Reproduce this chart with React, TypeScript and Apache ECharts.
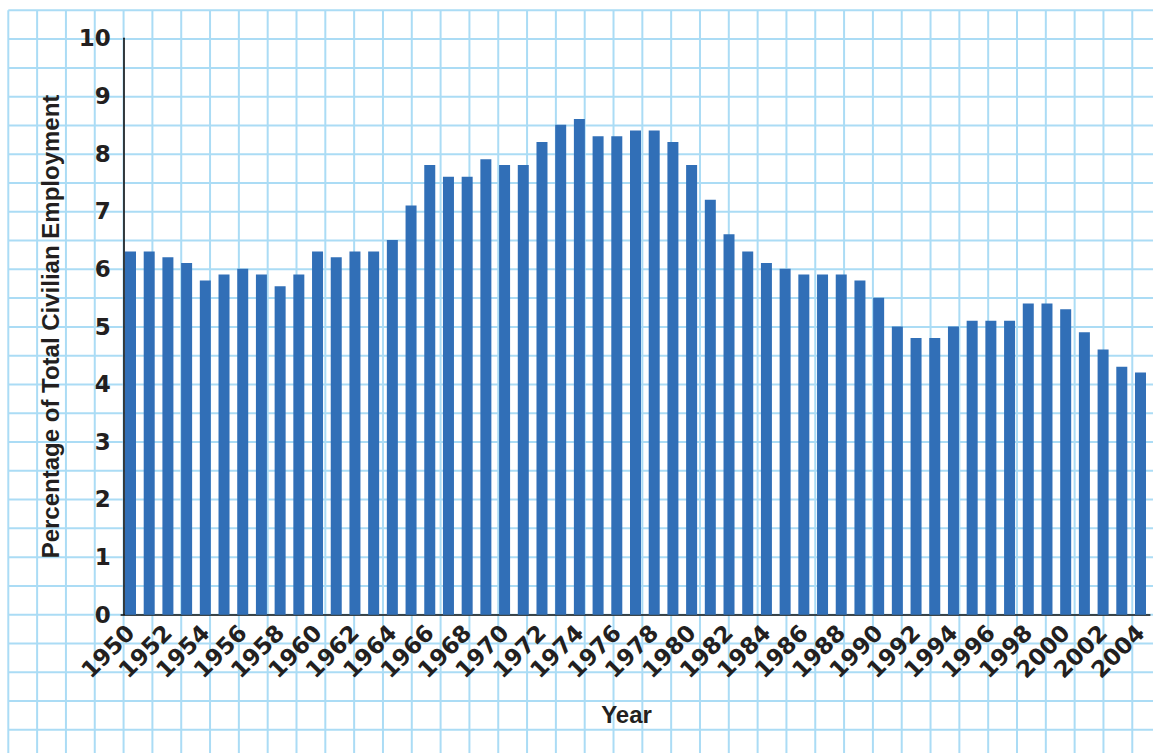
import React, { useEffect, useRef } from "react";
import * as echarts from "echarts";

const years: string[] = [
  "1950", "1951", "1952", "1953", "1954", "1955", "1956", "1957", "1958", "1959",
  "1960", "1961", "1962", "1963", "1964", "1965", "1966", "1967", "1968", "1969",
  "1970", "1971", "1972", "1973", "1974", "1975", "1976", "1977", "1978", "1979",
  "1980", "1981", "1982", "1983", "1984", "1985", "1986", "1987", "1988", "1989",
  "1990", "1991", "1992", "1993", "1994", "1995", "1996", "1997", "1998", "1999",
  "2000", "2001", "2002", "2003", "2004",
];

const percentages: number[] = [
  6.3, 6.3, 6.2, 6.1, 5.8, 5.9, 6.0, 5.9, 5.7, 5.9,
  6.3, 6.2, 6.3, 6.3, 6.5, 7.1, 7.8, 7.6, 7.6, 7.9,
  7.8, 7.8, 8.2, 8.5, 8.6, 8.3, 8.3, 8.4, 8.4, 8.2,
  7.8, 7.2, 6.6, 6.3, 6.1, 6.0, 5.9, 5.9, 5.9, 5.8,
  5.5, 5.0, 4.8, 4.8, 5.0, 5.1, 5.1, 5.1, 5.4, 5.4,
  5.3, 4.9, 4.6, 4.3, 4.2,
];

const yTicks = { min: 0, max: 10, interval: 1 };

const W = 1153;
const H = 753;
const FONT = "'Liberation Sans', Arial, Helvetica, sans-serif";
const NUM_FONT = "'DejaVu Sans', 'Liberation Sans', sans-serif";
const TEXT = "#231f20";
const PAPER_LINE = "#abdcf5";

function paperGrid() {
  const els: any[] = [];
  const x0 = 8.3;
  const stepX = 28.82;
  for (let k = 0; x0 + k * stepX < W; k++) {
    const x = x0 + k * stepX;
    els.push({
      type: "line",
      silent: true,
      z: -10,
      shape: { x1: x, y1: 10.3, x2: x, y2: H },
      style: { stroke: PAPER_LINE, lineWidth: 2 },
    });
  }
  const yBase = 614.7;
  const stepY = 28.78;
  for (let j = -4; j <= 21; j++) {
    const y = yBase - j * stepY;
    if (y > H) continue;
    els.push({
      type: "line",
      silent: true,
      z: -10,
      shape: { x1: x0, y1: y, x2: W, y2: y },
      style: { stroke: PAPER_LINE, lineWidth: 2 },
    });
  }
  return els;
}

export default function App() {
  const ref = useRef<HTMLDivElement>(null);

  useEffect(() => {
    if (!ref.current) return;
    const chart = echarts.init(ref.current, null, { renderer: "svg" });
    chart.setOption({
      animation: false,
      backgroundColor: "#ffffff",
      graphic: { elements: paperGrid() },
      grid: { left: 121.15, top: 38.3, width: 1028.7, height: 576.4, containLabel: false },
      xAxis: {
        type: "category",
        data: years,
        boundaryGap: true,
        name: "Year",
        nameLocation: "middle",
        nameGap: 88,
        nameTextStyle: {
          fontFamily: FONT,
          fontWeight: "bold",
          fontSize: 24,
          color: TEXT,
          padding: [0, 18, 0, 0],
        },
        axisLine: { show: true, lineStyle: { color: "#111", width: 1.6 } },
        axisTick: { show: false },
        splitLine: { show: false },
        axisLabel: {
          interval: 1,
          rotate: 45,
          margin: 14,
          padding: [30, 0, 0, 0],
          fontFamily: NUM_FONT,
          fontWeight: "bold",
          fontSize: 23,
          color: TEXT,
        },
      },
      yAxis: {
        type: "value",
        min: yTicks.min,
        max: yTicks.max,
        interval: yTicks.interval,
        offset: -2.5,
        name: "Percentage of Total Civilian Employment",
        nameLocation: "middle",
        nameGap: 61,
        nameTextStyle: {
          fontFamily: FONT,
          fontWeight: "bold",
          fontSize: 24,
          color: TEXT,
        },
        axisLine: { show: true, lineStyle: { color: "#111", width: 1.6 } },
        axisTick: { show: false },
        splitLine: { show: false },
        axisLabel: {
          margin: 13,
          fontFamily: NUM_FONT,
          fontWeight: "bold",
          fontSize: 23,
          color: TEXT,
        },
      },
      series: [
        {
          type: "bar",
          data: percentages,
          barWidth: 11,
          itemStyle: { color: "#316fb7" },
          z: 2,
        },
      ],
    });
    return () => chart.dispose();
  }, []);

  return (
    <div
      ref={ref}
      style={{ position: "fixed", left: 0, top: 0, width: W, height: H }}
    />
  );
}
